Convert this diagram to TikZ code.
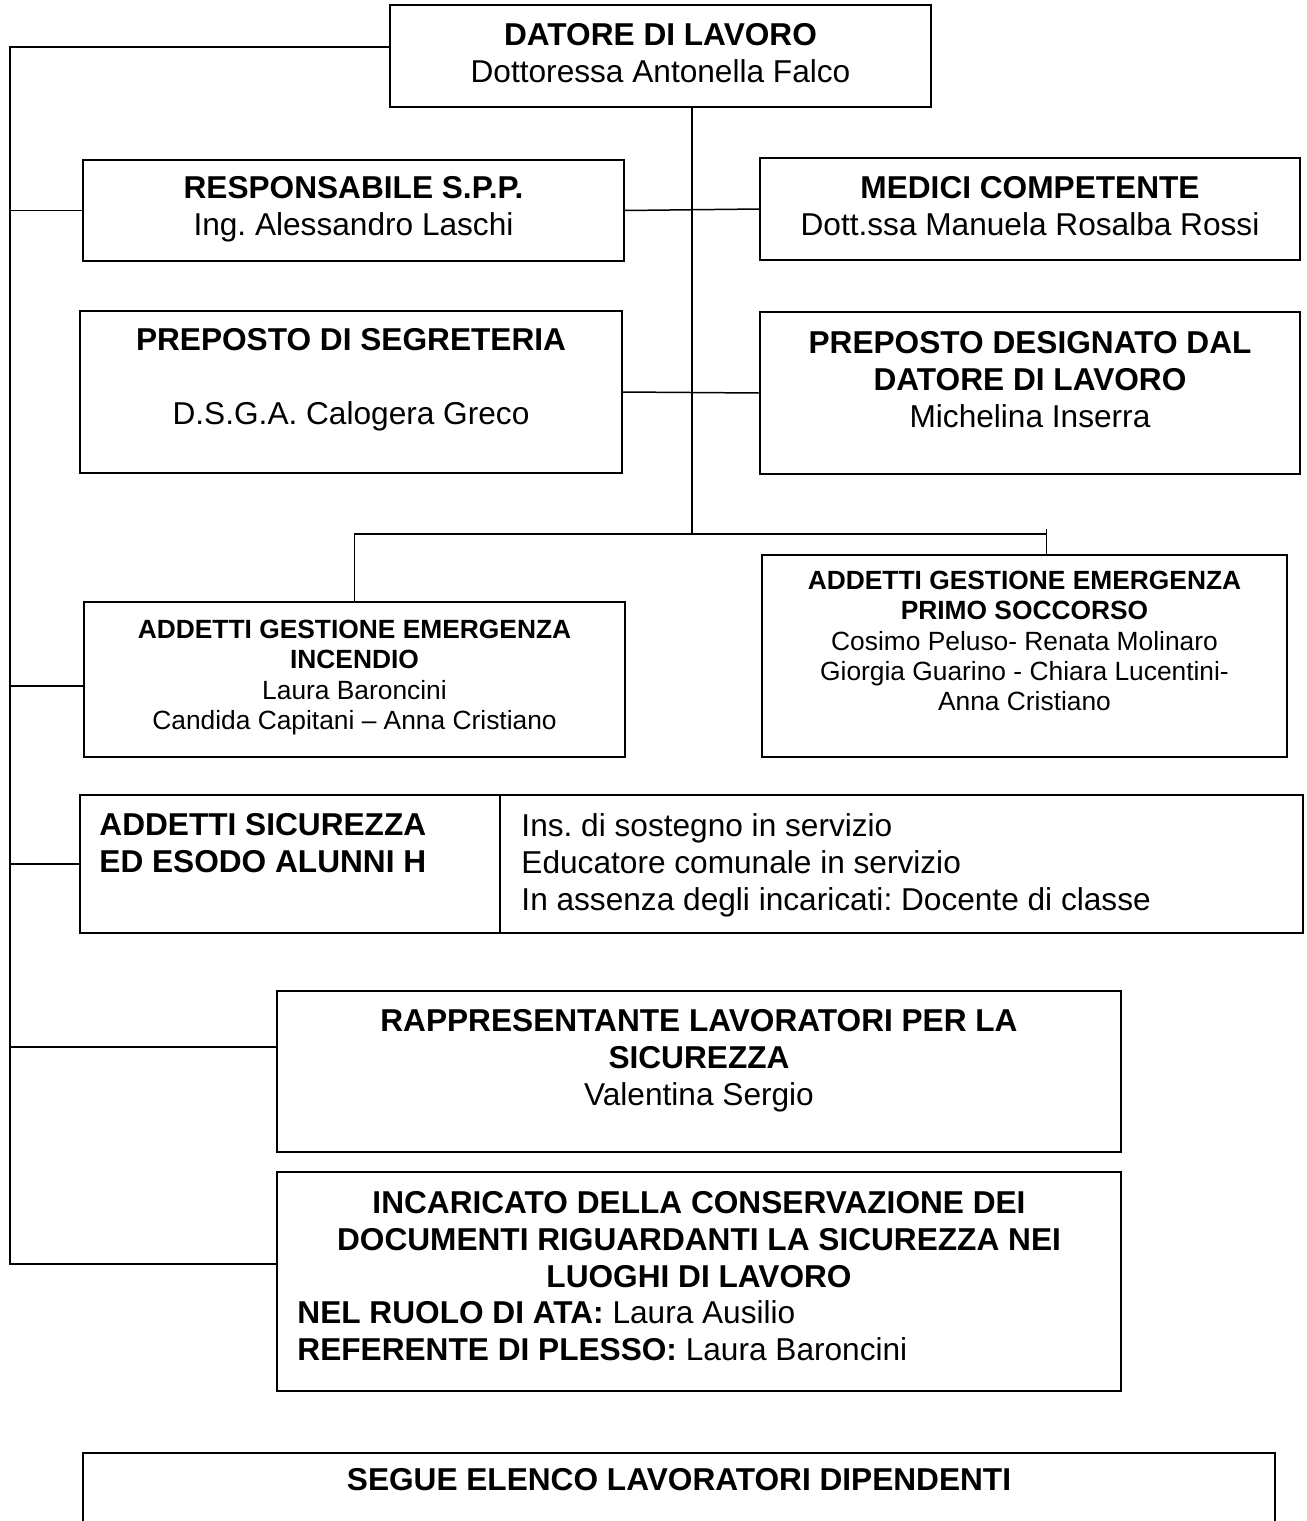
\documentclass[tikz,border=0pt]{standalone}
\usepackage{fontspec}
\setmainfont{Liberation Sans}
\usetikzlibrary{positioning,calc}
\frenchspacing

\begin{document}
\begin{tikzpicture}[x=0.02cm,y=-0.02cm,
    box/.style={draw,line width=1.1pt,inner sep=0pt},
    wire/.style={line width=0.85pt},
    big/.style={font=\fontsize{18}{21}\selectfont,align=center,inner sep=0pt},
    small/.style={font=\fontsize{15}{17.3}\selectfont,align=center,inner sep=0pt}]
  \useasboundingbox (0,0) rectangle (1307,1521);

  % Top
  \node[box,minimum width=10.82cm,minimum height=2.04cm] (datore) at (660.5,56) {};
  \node[big,below=0.38cm of datore.north] (datoreT) {\textbf{DATORE DI LAVORO}\\Dottoressa Antonella Falco};

  \node[box,minimum width=10.82cm,minimum height=2.02cm] (rspp) at (353.5,210.5) {};
  \node[big,below=0.34cm of rspp.north] (rsppT) {\textbf{RESPONSABILE S.P.P.}\\Ing. Alessandro Laschi};
  \node[box,minimum width=10.8cm,minimum height=2.04cm] (medico) at (1030,209) {};
  \node[big,below=0.38cm of medico.north] (medicoT) {\textbf{MEDICI COMPETENTE}\\Dott.ssa Manuela Rosalba Rossi};

  \node[box,minimum width=10.84cm,minimum height=3.24cm] (segreteria) at (351,392) {};
  \node[big,below=0.36cm of segreteria.north] (segreteriaT) {\textbf{PREPOSTO DI SEGRETERIA}\\[21pt]D.S.G.A. Calogera Greco};
  \node[box,minimum width=10.8cm,minimum height=3.24cm] (preposto) at (1030,393) {};
  \node[big,below=0.4cm of preposto.north] (prepostoT) {\textbf{PREPOSTO DESIGNATO DAL}\\\textbf{DATORE DI LAVORO}\\Michelina Inserra};

  % Middle
  \node[box,minimum width=10.82cm,minimum height=3.1cm] (incendio) at (354.5,679.5) {};
  \node[small,below=0.37cm of incendio.north] (incendioT) {\textbf{ADDETTI GESTIONE EMERGENZA}\\\textbf{INCENDIO}\\Laura Baroncini\\Candida Capitani – Anna Cristiano};
  \node[box,minimum width=10.5cm,minimum height=4.04cm] (soccorso) at (1024.5,656) {};
  \node[small,below=0.33cm of soccorso.north] (soccorsoT) {\textbf{ADDETTI GESTIONE EMERGENZA}\\\textbf{PRIMO SOCCORSO}\\Cosimo Peluso- Renata Molinaro\\Giorgia Guarino - Chiara Lucentini-\\Anna Cristiano};

  \node[box,minimum width=8.4cm,minimum height=2.76cm] (sicurezza) at (290,864) {};
  \node[big,align=left,below right=0.38cm and 0.4cm of sicurezza.north west] (sicurezzaT) {\textbf{ADDETTI SICUREZZA}\\\textbf{ED ESODO ALUNNI H}};
  \node[box,minimum width=16.06cm,minimum height=2.76cm] (elenco) at (901.5,864) {};
  \node[big,align=left,below right=0.38cm and 0.44cm of elenco.north west] (elencoT) {Ins. di sostegno in servizio\\Educatore comunale in servizio\\In assenza degli incaricati: Docente di classe};

  % Bottom
  \node[box,minimum width=16.88cm,minimum height=3.22cm] (rls) at (699,1071.5) {};
  \node[big,below=0.38cm of rls.north] (rlsT) {\textbf{RAPPRESENTANTE LAVORATORI PER LA}\\\textbf{SICUREZZA}\\Valentina Sergio};
  \node[box,minimum width=16.88cm,minimum height=4.38cm] (archivio) at (699,1281.5) {};
  \node[big,below=0.4cm of archivio.north] (archivioT) {\textbf{INCARICATO DELLA CONSERVAZIONE DEI}\\\textbf{DOCUMENTI RIGUARDANTI LA SICUREZZA NEI}\\\textbf{LUOGHI DI LAVORO}};
  \node[big,align=left,below right=2.58cm and 0.42cm of archivio.north west] (archivioN) {\textbf{NEL RUOLO DI ATA:} Laura Ausilio\\\textbf{REFERENTE DI PLESSO:} Laura Baroncini};

  \node[minimum width=23.84cm,minimum height=1.36cm,inner sep=0pt] (segue) at (679,1487) {};
  \draw[line width=1.1pt] (segue.south west) |- (segue.north east) -- (segue.south east);
  \node[big,below=0.3cm of segue.north] (segueT) {\textbf{SEGUE ELENCO LAVORATORI DIPENDENTI}};

  % Lines
  \coordinate (spinetop) at (10,47);
  \coordinate (spinebot) at (10,1264);
  \coordinate (fork) at (692,534);
  \coordinate (incendioin) at ($(incendio.north west)!0.54!(incendio.south west)$);
  \coordinate (rlsin) at ($(rls.north west)!0.35!(rls.south west)$);
  \coordinate (tick) at ($(soccorso.north)+(22,0)$);

  \draw[wire] (datore.west |- spinetop) -- (spinetop) -- (spinebot) -- (archivio.west |- spinebot);
  \draw[wire] (spinetop |- rspp.west) -- (rspp.west);
  \draw[wire] (spinetop |- incendioin) -- (incendioin);
  \draw[wire] (spinetop |- sicurezza.west) -- (sicurezza.west);
  \draw[wire] (spinetop |- rlsin) -- (rlsin);

  \draw[wire] (datore.south -| fork) -- (fork);
  \draw[wire] (rspp.east) -- (medico.west);
  \draw[wire] (segreteria.east) -- (preposto.west);
  \draw[wire] (incendio.north) |- (fork) -| (tick);
  \draw[wire] (tick) -- ++(0,-25);
\end{tikzpicture}
\end{document}
